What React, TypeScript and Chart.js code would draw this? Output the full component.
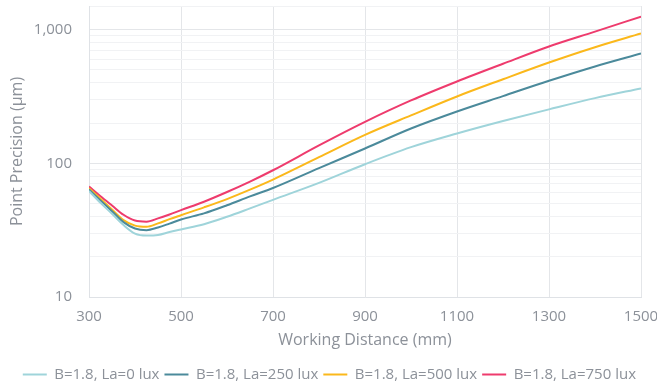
import React, { useEffect, useRef } from "react";
import { Chart, registerables } from "chart.js";

Chart.register(...registerables);

const distances = [300, 325, 350, 375, 400, 425, 450, 475, 500, 550, 600, 650, 700, 800, 900, 1000, 1100, 1200, 1300, 1400, 1500];
const la0 = [62, 50.6, 41.9, 34.5, 29.8, 28.8, 29.1, 30.6, 32, 35, 39.8, 46, 53.3, 71.3, 98.4, 132, 167, 207, 253, 307, 363];
const la250 = [63.6, 52.8, 43.8, 36.3, 32.5, 31.6, 33.1, 35.4, 38, 42.2, 48.5, 56.5, 65.3, 92, 129, 182, 244, 318, 414, 530, 662];
const la500 = [65, 54.2, 45.1, 37.6, 34.2, 33.5, 35.5, 38.2, 40.9, 46.8, 54, 63.5, 75.5, 111, 163, 228, 316, 425, 567, 738, 934];
const la750 = [67, 56.7, 48.3, 41.2, 37.3, 36.6, 38.7, 41.4, 44.6, 51.6, 61, 73, 88.7, 136, 204, 295, 409, 555, 747, 965, 1250];

const seriesLabels = ["B=1.8, La=0 lux", "B=1.8, La=250 lux", "B=1.8, La=500 lux", "B=1.8, La=750 lux"];
const seriesColors = ["#9fd4da", "#4b8a9b", "#fbb81b", "#ee3b6d"];
const xTicks = [300, 500, 700, 900, 1100, 1300, 1500];
const yLabelled = [10, 100, 1000];

const FONT = "'Open Sans', sans-serif";
const TEXT = "#8c9199";

export default function App() {
  const ref = useRef<HTMLCanvasElement | null>(null);
  useEffect(() => {
    if (!ref.current) return;
    const all = [la0, la250, la500, la750];
    const chart = new Chart(ref.current, {
      type: "line",
      data: {
        datasets: all.map((vals, i) => ({
          label: seriesLabels[i],
          data: vals.map((v, j) => ({ x: distances[j], y: v })),
          borderColor: seriesColors[i],
          backgroundColor: seriesColors[i],
          borderWidth: 2,
          pointRadius: 0,
          cubicInterpolationMode: "monotone" as const,
          fill: false,
        })),
      },
      options: {
        animation: false,
        responsive: false,
        layout: { padding: { top: 6, right: 16, left: 0, bottom: -5 } },
        plugins: {
          tooltip: { enabled: false },
          legend: {
            position: "bottom",
            align: "end",
            labels: {
              usePointStyle: true,
              pointStyle: "line",
              pointStyleWidth: 24,
              padding: 5,
              color: TEXT,
              font: { family: FONT, size: 15 },
            },
          },
        },
        scales: {
          x: {
            type: "linear",
            min: 300,
            max: 1500,
            afterBuildTicks: (axis: any) => {
              axis.ticks = xTicks.map((v) => ({ value: v }));
            },
            afterFit: (axis: any) => {
              axis.height = 65;
              axis.paddingLeft = 0;
              axis.paddingRight = 0;
            },
            grid: { color: "#e4e6e9", drawTicks: false, lineWidth: 1 },
            border: { color: "#dfe2e6" },
            ticks: {
              color: TEXT,
              font: { family: FONT, size: 15 },
              padding: 11,
              maxRotation: 0,
              autoSkip: false,
              callback: (v: any) => String(v),
            },
            title: {
              display: true,
              text: "Working Distance (mm)",
              color: TEXT,
              font: { family: FONT, size: 16 },
              padding: { top: 0, bottom: 12 },
            },
          },
          y: {
            type: "logarithmic",
            min: 10,
            max: 1500,
            afterFit: (axis: any) => {
              axis.width = 89;
              axis.paddingTop = 0;
              axis.paddingBottom = 0;
            },
            grid: {
              drawTicks: false,
              color: (ctx: any) => {
                const v = ctx.tick && ctx.tick.value;
                return yLabelled.includes(v) ? "#e4e6e9" : "#f1f2f4";
              },
            },
            border: { color: "#dfe2e6" },
            ticks: {
              color: TEXT,
              font: { family: FONT, size: 15 },
              padding: 17,
              autoSkip: false,
              callback: (v: any) => (yLabelled.includes(Number(v)) ? Number(v).toLocaleString("en-US") : ""),
            },
            title: {
              display: true,
              text: "Point Precision (µm)",
              color: TEXT,
              font: { family: FONT, size: 16 },
              padding: { top: 8, bottom: 0 },
            },
          },
        },
      },
    });
    return () => chart.destroy();
  }, []);
  return (
    <div style={{ position: "fixed", left: 0, top: 0, width: 657, height: 387, background: "#fff" }}>
      <canvas ref={ref} width={657} height={387} style={{ display: "block" }} />
    </div>
  );
}
